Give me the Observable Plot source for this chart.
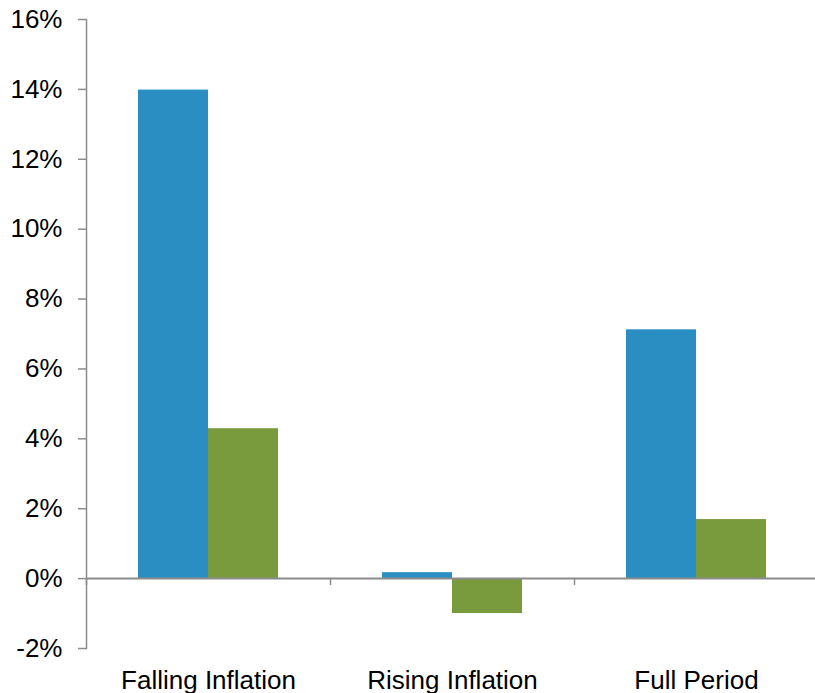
<!DOCTYPE html>
<html>
<head>
<meta charset="utf-8">
<script src="https://cdn.jsdelivr.net/npm/d3@7"></script>
<script src="https://cdn.jsdelivr.net/npm/@observablehq/plot@0.6"></script>
<style>
  html, body { margin: 0; padding: 0; background: #fff; }
</style>
</head>
<body>
<div id="chart"></div>
<script>
const categories = ["Falling Inflation", "Rising Inflation", "Full Period"];
const seriesNames = ["Series 1", "Series 2"];
const series1Values = [13.98, 0.17, 7.12];
const series2Values = [4.29, -1.0, 1.69];
const seriesColors = ["#2a8ec3", "#7a9a3e"];
const yTicks = [-2, 0, 2, 4, 6, 8, 10, 12, 14, 16];

const data = [];
categories.forEach((c, i) => {
  data.push({category: c, series: seriesNames[0], value: series1Values[i]});
  data.push({category: c, series: seriesNames[1], value: series2Values[i]});
});

const W = 815, H = 693, mT = 19, mB = 45, mL = 86, mR = -3;
const yMin = -2, yMax = 16;
const step = (W - mL - mR) / categories.length;
const zeroOffset = (H - mT - mB) * (0 - yMin) / (yMax - yMin);
const gray = "#8c8c8c";
const font = "'Liberation Sans', Arial, sans-serif";

const chart = Plot.plot({
  width: W,
  height: H,
  marginTop: mT,
  marginBottom: mB,
  marginLeft: mL,
  marginRight: mR,
  style: {fontFamily: font, fontSize: "26px", color: "#000", background: "#fff", overflow: "hidden"},
  fx: {domain: categories, padding: 0, label: null},
  x: {domain: seriesNames, paddingInner: 0, paddingOuter: 0.7357, axis: null},
  y: {domain: [yMin, yMax], label: null},
  color: {domain: seriesNames, range: seriesColors},
  marks: [
    Plot.frame({anchor: "left", facetAnchor: "left", stroke: gray, strokeWidth: 1.5}),
    Plot.barY(data, {fx: "category", x: "series", y: "value", fill: "series"}),
    Plot.ruleY([0], {stroke: gray, strokeWidth: 2}),
    Plot.axisY({ticks: yTicks, tickFormat: d => d + "%", tickSize: 8, tickPadding: 16, stroke: gray, fill: "#000", strokeWidth: 1.5, fontSize: 26, label: null}),
    Plot.axisFx({anchor: "bottom", tickSize: 0, tickPadding: 22, label: null, fill: "#000", fontSize: 26}),
    Plot.axisFx({anchor: "bottom", tickSize: 7, fill: "none", stroke: gray, strokeWidth: 1.5, dx: -step / 2, dy: -zeroOffset, label: null})
  ]
});
document.getElementById("chart").appendChild(chart);
</script>
</body>
</html>
